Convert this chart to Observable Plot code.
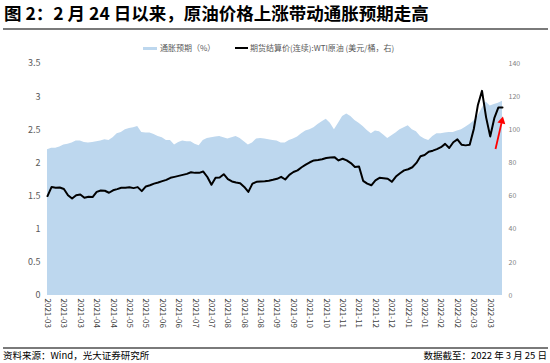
<!DOCTYPE html>
<html><head><meta charset="utf-8">
<script src="https://cdn.jsdelivr.net/npm/d3@7"></script>
<script src="https://cdn.jsdelivr.net/npm/@observablehq/plot@0.6"></script>
<style>
body{margin:0;background:#fff;font-family:"Noto Sans CJK SC","Noto Sans",sans-serif;}
#wrap{position:relative;width:550px;height:363px;overflow:hidden;background:#fff;}
#title{position:absolute;left:4px;top:2px;font-size:17.5px;line-height:22px;font-weight:700;color:#000;white-space:nowrap;}
.rule{position:absolute;left:3px;width:545px;height:1px;background:#7a7a7a;}
.lg{position:absolute;font-size:8px;line-height:10px;color:#595959;white-space:nowrap;}
#chart{position:absolute;left:0;top:55px;}
.ft{position:absolute;top:349px;font-size:9.5px;line-height:12px;color:#000;white-space:nowrap;}
</style></head><body>
<div id="wrap">
  <div id="title">图 2：2 月 24 日以来，原油价格上涨带动通胀预期走高</div>
  <div class="rule" style="top:28px;height:1.5px;"></div>
  <div style="position:absolute;left:143px;top:46.5px;width:14px;height:3px;background:#BDD7EE;"></div>
  <div class="lg" id="lg1" style="left:160px;top:43px;"></div>
  <div style="position:absolute;left:235px;top:47px;width:13px;height:2px;background:#000;"></div>
  <div class="lg" id="lg2" style="left:250px;top:43px;"></div>
  <div id="chart"></div>
  <div class="rule" style="top:347px;height:1.5px;"></div>
  <div class="ft" id="src" style="left:3px;"></div>
  <div class="ft" id="asof" style="right:3px;"></div>
</div>
<script>
const seriesNames = ["通胀预期（%）", "期货结算价(连续):WTI原油 (美元/桶，右)"];
const sourceText = "资料来源：Wind，光大证券研究所";
const asOfText = "数据截至：2022 年 3 月 25 日";

const tickLabels = ["2021-03","2021-03","2021-03","2021-04","2021-04","2021-05","2021-05","2021-06","2021-06","2021-07","2021-07","2021-08","2021-08","2021-08","2021-09","2021-09","2021-10","2021-10","2021-11","2021-11","2021-12","2021-12","2022-01","2022-01","2022-02","2022-02","2022-03","2022-03"];

const leftTicks = [0, 0.5, 1, 1.5, 2, 2.5, 3, 3.5];

// 10Y inflation expectation (%), sampled every quarter of a label interval
const inflation = [2.20,2.22,2.22,2.24,2.27,2.28,2.30,2.33,2.33,2.31,
 2.30,2.31,2.32,2.33,2.35,2.34,2.38,2.44,2.46,2.50,
 2.52,2.53,2.55,2.46,2.45,2.45,2.43,2.40,2.38,2.34,
 2.34,2.27,2.31,2.33,2.32,2.32,2.28,2.26,2.34,2.37,
 2.38,2.39,2.40,2.38,2.36,2.38,2.40,2.37,2.32,2.27,
 2.30,2.36,2.37,2.36,2.35,2.34,2.33,2.30,2.30,2.34,
 2.36,2.39,2.44,2.48,2.50,2.53,2.58,2.62,2.66,2.60,
 2.50,2.60,2.70,2.74,2.70,2.64,2.60,2.55,2.49,2.44,
 2.48,2.47,2.42,2.37,2.41,2.45,2.50,2.53,2.56,2.50,
 2.47,2.40,2.36,2.34,2.40,2.44,2.44,2.45,2.46,2.46,
 2.48,2.50,2.54,2.58,2.63,2.70,2.82,2.92,2.86,2.88,
 2.90,2.93];

// WTI settlement price (USD/bbl, right axis)
const wti = [60.0,65.5,65.0,65.2,64.3,60.5,58.5,60.5,61.0,59.0,
 59.6,59.4,62.5,63.4,63.2,62.0,63.5,64.2,65.0,65.0,
 65.3,64.8,65.4,63.0,65.8,66.5,67.5,68.2,69.0,69.8,
 71.0,71.6,72.2,72.8,73.4,74.4,74.0,74.0,74.8,71.5,
 66.8,71.0,71.2,73.2,70.2,68.8,68.2,67.8,65.5,62.5,
 67.5,68.6,68.8,69.0,69.3,69.8,70.4,71.6,70.0,72.8,
 74.5,75.5,77.4,79.0,80.4,81.5,81.8,82.2,83.0,83.3,
 83.5,81.5,82.5,81.5,79.9,77.6,77.8,69.2,67.5,66.5,
 69.5,71.0,70.8,70.5,68.6,71.8,73.8,75.5,76.2,77.4,
 80.0,84.0,84.8,86.8,87.4,88.3,89.5,91.5,89.0,92.5,
 94.2,91.0,90.6,91.0,100.5,115.0,123.5,107.5,96.0,107.0,
 113.5,113.5];

// red annotation arrow (x in sample index, y in left-axis units)
const arrowNote = [{x1: 109.3, y1: 2.21, x2: 110.75, y2: 2.60}];
const arrowHead = [{x: 110.85, y: 2.63}];

const rightPerLeft = 40; // 140 on right axis = 3.5 on left axis
const perLabel = 4;      // samples between category labels

const data = inflation.map((v, i) => ({i, inf: v, oil: wti[i]}));
const xTicks = tickLabels.map((_, k) => k * perLabel);

document.getElementById("lg1").textContent = seriesNames[0];
document.getElementById("lg2").textContent = seriesNames[1];
document.getElementById("src").textContent = sourceText;
document.getElementById("asof").textContent = asOfText;

const chart = Plot.plot({
  width: 550,
  height: 285,
  marginTop: 8,
  marginBottom: 45,
  marginLeft: 47,
  marginRight: 48,
  style: {fontFamily: "'Noto Sans CJK SC', 'Noto Sans', sans-serif", background: "transparent"},
  x: {domain: [0, data.length - 1]},
  y: {domain: [0, 3.5]},
  marks: [
    Plot.areaY(data, {x: "i", y: "inf", fill: "#BDD7EE"}),
    Plot.line(data, {x: "i", y: d => d.oil / rightPerLeft, stroke: "#000", strokeWidth: 2, strokeLinejoin: "round"}),
    Plot.link(arrowNote, {x1: "x1", y1: "y1", x2: "x2", y2: "y2", stroke: "#FF0000", strokeWidth: 1.8}),
    Plot.dot(arrowHead, {x: "x", y: "y", symbol: "triangle", r: 3, fill: "#FF0000", stroke: null, rotate: 13}),
    Plot.axisY(leftTicks, {anchor: "left", tickSize: 0, tickPadding: 7, fontSize: 9, fill: "#595959", tickFormat: d => String(d), label: null}),
    Plot.axisY(leftTicks, {anchor: "right", tickSize: 0, tickPadding: 6, fontSize: 7, fill: "#7f7f7f", tickFormat: d => String(d * rightPerLeft), label: null}),
    Plot.axisX(xTicks, {anchor: "bottom", tickSize: 0, tickPadding: 3, tickRotate: 90, fontSize: 8, fill: "#404040", tickFormat: i => tickLabels[i / perLabel], label: null})
  ]
});
document.getElementById("chart").appendChild(chart);
</script>
</body></html>
